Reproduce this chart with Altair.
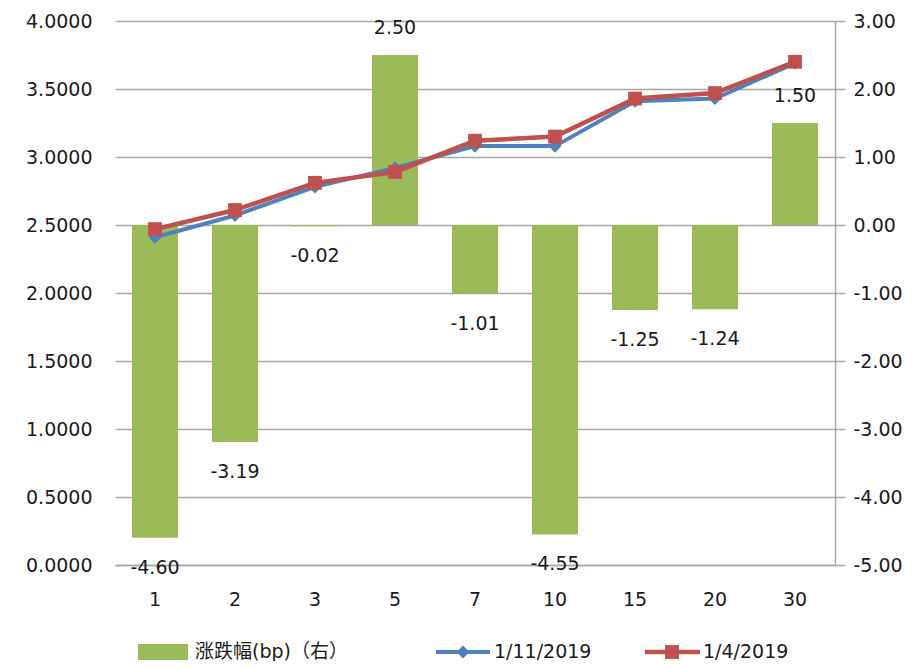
import altair as alt
import pandas as pd

tenors = ["1", "2", "3", "5", "7", "10", "15", "20", "30"]
bp_change = [-4.60, -3.19, -0.02, 2.50, -1.01, -4.55, -1.25, -1.24, 1.50]
yield_0111 = [2.41, 2.57, 2.78, 2.92, 3.08, 3.08, 3.41, 3.43, 3.69]
yield_0104 = [2.47, 2.61, 2.81, 2.89, 3.12, 3.15, 3.43, 3.47, 3.70]
left_ticks = [0, 0.5, 1.0, 1.5, 2.0, 2.5, 3.0, 3.5, 4.0]
right_ticks = [-5, -4, -3, -2, -1, 0, 1, 2, 3]
legend_labels = ["涨跌幅(bp)（右）", "1/11/2019", "1/4/2019"]

GREEN = "#9BBB59"
BLUE = "#4F81BD"
RED = "#C0504D"
GRID = "#a6a6a6"
FONT = "DejaVu Sans, Noto Sans CJK SC, sans-serif"
FS = 19
TXT = "#1a1a1a"
MINUS_FIX = "replace(format(datum.value, '{f}'), '\u2212', '-')"

df = pd.DataFrame({"tenor": tenors, "bp": bp_change,
                   "d0111": yield_0111, "d0104": yield_0104})

x_enc = alt.X("tenor:N", sort=tenors,
              scale=alt.Scale(paddingInner=0, paddingOuter=0),
              axis=alt.Axis(title=None, labelAngle=0, ticks=False, domain=True,
                            domainColor=GRID, domainWidth=1.5, labelPadding=25,
                            labelFontSize=FS, labelFont=FONT, labelColor=TXT))

# ---- bars + labels (right axis) ----
bar_base = alt.Chart(df).transform_calculate(
    lab="replace(format(datum.bp, '.2f'), '\u2212', '-')"
).encode(
    x=x_enc,
    y=alt.Y("bp:Q", scale=alt.Scale(domain=[-5, 3], nice=False, zero=False),
            axis=alt.Axis(orient="right", values=right_ticks,
                          labelExpr=MINUS_FIX.format(f=".2f"),
                          grid=False, title=None, domainColor=GRID, domainWidth=1.5,
                          tickColor=GRID, tickWidth=1.5, tickSize=10, labelPadding=8,
                          labelFontSize=FS, labelFont=FONT, labelColor=TXT)),
)
bars = bar_base.mark_bar(color=GREEN, size=46)
lab_pos = bar_base.transform_filter("datum.bp > 0").mark_text(
    dy=-27, baseline="middle", fontSize=FS, font=FONT, color=TXT).encode(text="lab:N")
lab_neg = bar_base.transform_filter("datum.bp <= 0").mark_text(
    dy=30, baseline="middle", fontSize=FS, font=FONT, color=TXT).encode(text="lab:N")
bar_group = alt.layer(bars, lab_pos, lab_neg)

# ---- yield lines (left axis) ----
line_base = alt.Chart(df).transform_fold(["d0111", "d0104"], as_=["series", "yv"]).encode(
    x=x_enc,
    y=alt.Y("yv:Q", scale=alt.Scale(domain=[0, 4], nice=False, zero=False),
            axis=alt.Axis(orient="left", values=left_ticks,
                          labelExpr=MINUS_FIX.format(f=".4f"), grid=True,
                          gridColor=GRID, gridWidth=1.5, ticks=False, domain=False,
                          title=None, labelPadding=23, labelFontSize=FS,
                          labelFont=FONT, labelColor=TXT)),
)
blue = line_base.transform_filter("datum.series == 'd0111'").mark_line(
    color=BLUE, strokeWidth=4,
    point=alt.OverlayMarkDef(shape="diamond", size=170, color=BLUE, filled=True, opacity=1))
red = line_base.transform_filter("datum.series == 'd0104'").mark_line(
    color=RED, strokeWidth=4.5,
    point=alt.OverlayMarkDef(shape="square", size=190, color=RED, filled=True, opacity=1))
line_group = alt.layer(blue, red)

# ---- manual legend below the plot ----
one = alt.Chart(pd.DataFrame({"k": [0]}))
ly = 631
leg = alt.layer(
    one.mark_rect(color=GREEN).encode(x=alt.value(23), x2=alt.value(73),
                                      y=alt.value(ly - 8), y2=alt.value(ly + 8)),
    one.mark_text(align="left", baseline="middle", fontSize=FS, font=FONT, color=TXT).encode(
        x=alt.value(80), y=alt.value(ly), text=alt.value(legend_labels[0])),
    one.mark_rule(color=BLUE, strokeWidth=4).encode(x=alt.value(321), x2=alt.value(375),
                                                    y=alt.value(ly)),
    one.mark_point(shape="diamond", size=170, color=BLUE, filled=True, opacity=1).encode(
        x=alt.value(348), y=alt.value(ly)),
    one.mark_text(align="left", baseline="middle", fontSize=FS, font=FONT, color=TXT).encode(
        x=alt.value(379), y=alt.value(ly), text=alt.value(legend_labels[1])),
    one.mark_rule(color=RED, strokeWidth=4.5).encode(x=alt.value(530), x2=alt.value(585),
                                                     y=alt.value(ly)),
    one.mark_point(shape="square", size=190, color=RED, filled=True, opacity=1).encode(
        x=alt.value(557), y=alt.value(ly)),
    one.mark_text(align="left", baseline="middle", fontSize=FS, font=FONT, color=TXT).encode(
        x=alt.value(588), y=alt.value(ly), text=alt.value(legend_labels[2])),
)

chart = alt.layer(bar_group, line_group, leg).resolve_scale(y="independent").properties(
    width=720, height=544,
    background="white",
    autosize=alt.AutoSizeParams(type="none"),
    padding={"left": 107, "top": 13, "right": 75, "bottom": 96},
).configure_view(stroke=None)

chart.save("out.html", embed_options={"renderer": "svg", "actions": False})
